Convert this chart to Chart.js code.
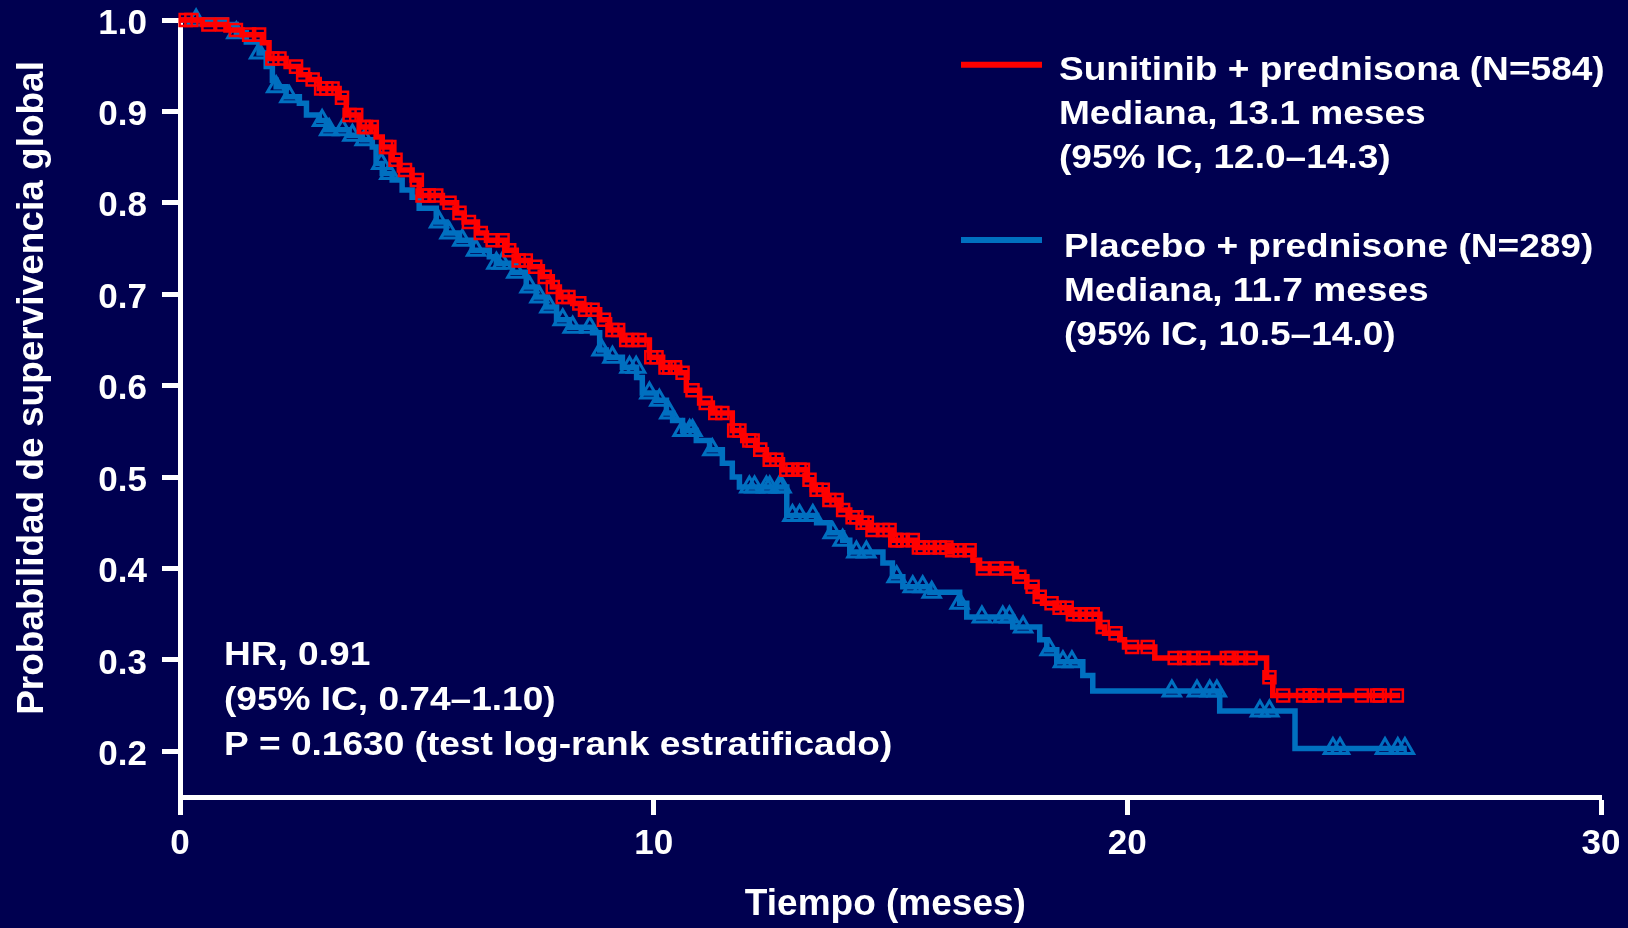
<!DOCTYPE html>
<html>
<head>
<meta charset="utf-8">
<script src="https://cdn.jsdelivr.net/npm/chart.js@4.4.1/dist/chart.umd.min.js"></script>
<style>
  html, body { margin: 0; padding: 0; background: #000050; }
  #wrap { width: 1628px; height: 928px; }
</style>
</head>
<body>
<div id="wrap"><canvas id="c" width="1628" height="928"></canvas></div>
<script>
// ---- Data ----
const xTicks = [0, 10, 20, 30];
const yTicks = [0.2, 0.3, 0.4, 0.5, 0.6, 0.7, 0.8, 0.9, 1.0];

// Sunitinib + prednisona: step times (months) and survival after each step
const sunTimes = [0, 0.47, 0.97, 1.31, 1.74, 1.88, 2.24, 2.52, 2.73, 2.94, 3.36, 3.51, 3.79, 4.14, 4.27, 4.48, 4.63, 4.90, 5.05, 5.54, 5.84, 6.00, 6.28, 6.47, 6.89, 7.10, 7.38, 7.65, 7.86, 8.01, 8.29, 8.50, 8.86, 9.07, 9.34, 9.91, 10.19, 10.55, 10.69, 10.97, 11.24, 11.66, 11.88, 12.17, 12.38, 12.72, 13.23, 13.35, 13.65, 13.92, 14.14, 14.35, 14.56, 15.04, 15.55, 16.25, 16.74, 16.88, 17.66, 17.88, 18.09, 18.21, 18.51, 18.79, 19.42, 19.52, 19.84, 19.94, 20.58, 22.94, 23.07, 25.76];
const sunSurv  = [1.0, 0.995, 0.989, 0.984, 0.975, 0.958, 0.949, 0.94, 0.935, 0.925, 0.915, 0.896, 0.883, 0.872, 0.861, 0.847, 0.836, 0.825, 0.808, 0.80, 0.789, 0.779, 0.767, 0.759, 0.748, 0.737, 0.730, 0.719, 0.708, 0.697, 0.69, 0.683, 0.672, 0.661, 0.65, 0.631, 0.62, 0.614, 0.595, 0.581, 0.57, 0.551, 0.54, 0.53, 0.519, 0.508, 0.497, 0.486, 0.475, 0.464, 0.456, 0.45, 0.442, 0.431, 0.423, 0.42, 0.409, 0.40, 0.391, 0.38, 0.369, 0.362, 0.357, 0.35, 0.336, 0.329, 0.322, 0.314, 0.302, 0.281, 0.261, 0.261];
const sunCensored = [0.12, 0.24, 0.6, 0.89, 1.18, 1.46, 1.67, 1.95, 2.1, 2.45, 2.6, 2.8, 2.98, 3.09, 3.22, 3.42, 3.58, 3.72, 3.88, 3.93, 4.05, 4.35, 4.42, 4.55, 4.75, 5.0, 5.12, 5.25, 5.41, 5.69, 5.9, 6.1, 6.35, 6.6, 6.81, 6.95, 7.15, 7.3, 7.5, 7.7, 7.87, 8.08, 8.2, 8.43, 8.55, 8.71, 8.95, 9.13, 9.25, 9.42, 9.55, 9.7, 9.95, 10.06, 10.25, 10.33, 10.45, 10.61, 10.82, 11.1, 11.3, 11.45, 11.7, 11.81, 12.02, 12.09, 12.25, 12.45, 12.59, 12.8, 12.93, 13.08, 13.15, 13.29, 13.44, 13.57, 13.71, 13.86, 14.0, 14.2, 14.28, 14.41, 14.5, 14.62, 14.84, 14.98, 15.1, 15.13, 15.26, 15.47, 15.6, 15.68, 15.83, 16.04, 16.18, 16.3, 16.46, 16.67, 16.95, 17.24, 17.45, 17.72, 18.0, 18.15, 18.4, 18.57, 18.72, 18.85, 18.99, 19.14, 19.27, 19.48, 19.75, 20.1, 20.43, 21.0, 21.2, 21.4, 21.6, 22.1, 22.2, 22.4, 22.6, 23.0, 23.29, 23.71, 23.85, 24.0, 24.38, 24.95, 25.27, 25.33, 25.69];

// Placebo + prednisone
const plaTimes = [0, 0.98, 1.19, 1.40, 1.67, 1.82, 1.95, 2.03, 2.24, 2.52, 2.67, 2.94, 3.09, 3.57, 3.85, 4.06, 4.14, 4.27, 4.48, 4.69, 4.90, 5.05, 5.41, 5.62, 5.90, 6.17, 6.53, 6.68, 7.02, 7.31, 7.52, 7.73, 7.95, 8.22, 8.71, 8.86, 9.00, 9.34, 9.64, 9.76, 10.06, 10.27, 10.40, 10.61, 10.90, 11.18, 11.45, 11.66, 11.81, 12.81, 13.44, 13.71, 13.99, 14.14, 14.84, 15.04, 15.26, 15.83, 16.46, 16.61, 17.58, 18.15, 18.30, 18.51, 19.06, 19.27, 21.95, 23.54, 25.90];
const plaSurv  = [1.0, 0.995, 0.986, 0.976, 0.964, 0.949, 0.934, 0.927, 0.916, 0.909, 0.896, 0.89, 0.88, 0.874, 0.869, 0.861, 0.843, 0.832, 0.825, 0.814, 0.806, 0.794, 0.779, 0.767, 0.759, 0.748, 0.741, 0.734, 0.724, 0.708, 0.697, 0.686, 0.672, 0.664, 0.658, 0.639, 0.631, 0.62, 0.609, 0.592, 0.584, 0.57, 0.562, 0.551, 0.54, 0.53, 0.515, 0.50, 0.489, 0.458, 0.45, 0.439, 0.431, 0.418, 0.406, 0.391, 0.38, 0.374, 0.362, 0.347, 0.336, 0.322, 0.311, 0.298, 0.283, 0.266, 0.244, 0.203, 0.203];
const plaCensored = [0.34, 1.19, 1.67, 2.03, 2.31, 3.0, 3.15, 3.43, 3.64, 3.9, 4.25, 4.42, 5.47, 5.69, 5.96, 6.25, 6.68, 6.8, 7.1, 7.38, 7.59, 7.8, 8.08, 8.29, 8.65, 8.9, 9.13, 9.49, 9.63, 9.91, 10.12, 10.33, 10.61, 10.76, 10.82, 11.24, 12.02, 12.13, 12.38, 12.45, 12.65, 12.7, 12.93, 13.08, 13.36, 13.78, 13.99, 14.28, 14.49, 15.13, 15.47, 15.68, 15.87, 16.46, 16.93, 17.37, 17.51, 17.8, 18.36, 18.64, 18.83, 20.94, 21.47, 21.74, 21.89, 22.8, 23.0, 24.34, 24.49, 25.44, 25.71, 25.86];

const legendLines = [
  ['Sunitinib + prednisona (N=584)', 'Mediana, 13.1 meses', '(95% IC, 12.0\u201314.3)'],
  ['Placebo + prednisone (N=289)', 'Mediana, 11.7 meses', '(95% IC, 10.5\u201314.0)']
];
const statLines = ['HR, 0.91', '(95% IC, 0.74\u20131.10)', 'P = 0.1630 (test log-rank estratificado)'];

// ---- helpers ----
const RED = '#ff0000', BLUE = '#0070c0', BG = '#000050';
function stepPoints(times, surv) { return times.map((t, i) => ({x: t, y: surv[i]})); }
function survAt(times, surv, t) {
  let s = surv[0];
  for (let i = 0; i < times.length; i++) { if (times[i] <= t) s = surv[i]; else break; }
  return s;
}
function censorPoints(cens, times, surv) { return cens.map(t => ({x: t, y: survAt(times, surv, t)})); }

const FONT = '"Liberation Sans", Arial, Helvetica, sans-serif';
Chart.defaults.font.family = FONT;
Chart.defaults.font.weight = 'bold';
Chart.defaults.color = '#ffffff';

const bgPlugin = {
  id: 'bg',
  beforeDraw(chart) {
    const c = chart.ctx;
    c.save(); c.fillStyle = BG; c.fillRect(0, 0, chart.width, chart.height); c.restore();
  }
};

const textPlugin = {
  id: 'texts',
  afterDraw(chart) {
    const c = chart.ctx;
    const sx = 1.09;
    function line(txt, x, y) {
      c.save(); c.translate(x, y); c.scale(sx, 1); c.fillText(txt, 0, 0); c.restore();
    }
    c.save();
    c.fillStyle = '#ffffff';
    c.font = 'bold 34px ' + FONT;
    c.textBaseline = 'alphabetic';
    c.textAlign = 'left';
    const legCfg = [
      {color: RED, lineY: 64.8, textX: 1059, base: 80},
      {color: BLUE, lineY: 240, textX: 1064, base: 257}
    ];
    legCfg.forEach((cfg, k) => {
      c.save();
      c.strokeStyle = cfg.color; c.lineWidth = 6; c.lineCap = 'butt';
      c.beginPath(); c.moveTo(961, cfg.lineY); c.lineTo(1042, cfg.lineY); c.stroke();
      c.restore();
      legendLines[k].forEach((t, j) => line(t, cfg.textX, cfg.base + j * 44));
    });
    statLines.forEach((t, j) => line(t, 224, 665 + j * 45));
    c.restore();
  }
};

new Chart(document.getElementById('c'), {
  type: 'line',
  data: {
    datasets: [
      {
        label: 'Sunitinib + prednisona (N=584) censurados',
        type: 'scatter',
        data: censorPoints(sunCensored, sunTimes, sunSurv),
        showLine: false, pointStyle: 'rect', pointRadius: 8.5,
        pointBorderColor: RED, pointBackgroundColor: 'rgba(0,0,0,0)', pointBorderWidth: 2.5,
        clip: false, order: 0
      },
      {
        label: 'Sunitinib + prednisona (N=584)',
        data: stepPoints(sunTimes, sunSurv),
        borderColor: RED, backgroundColor: RED, borderWidth: 5.5, stepped: 'before',
        pointRadius: 0, fill: false, clip: false, order: 1
      },
      {
        label: 'Placebo + prednisone (N=289) censurados',
        type: 'scatter',
        data: censorPoints(plaCensored, plaTimes, plaSurv),
        showLine: false, pointStyle: 'triangle', pointRadius: 10,
        pointBorderColor: BLUE, pointBackgroundColor: 'rgba(0,0,0,0)', pointBorderWidth: 3,
        clip: false, order: 2
      },
      {
        label: 'Placebo + prednisone (N=289)',
        data: stepPoints(plaTimes, plaSurv),
        borderColor: BLUE, backgroundColor: BLUE, borderWidth: 5.5, stepped: 'before',
        pointRadius: 0, fill: false, clip: false, order: 3
      }
    ]
  },
  options: {
    responsive: false,
    animation: false,
    events: [],
    layout: { padding: { top: 20, right: 27, left: 0, bottom: 0 } },
    plugins: { legend: { display: false }, tooltip: { enabled: false } },
    scales: {
      x: {
        type: 'linear', min: 0, max: 30,
        afterBuildTicks: s => { s.ticks = xTicks.map(v => ({value: v})); },
        afterFit: s => { s.height = 131; s.paddingLeft = 0; s.paddingRight = 0; },
        ticks: { color: '#ffffff', font: { size: 35, weight: 'bold' }, padding: 8, maxRotation: 0,
                 callback: v => String(v) },
        grid: { display: true, drawOnChartArea: false, drawTicks: true, tickLength: 18, tickWidth: 5, tickColor: '#ffffff', color: '#ffffff' },
        border: { display: true, color: '#ffffff', width: 5 },
        title: { display: true, text: 'Tiempo (meses)\u00a0', color: '#ffffff', font: { size: 37, weight: 'bold' }, padding: { top: 0, bottom: 1 } }
      },
      y: {
        type: 'linear', min: 0.15, max: 1.0,
        afterBuildTicks: s => { s.ticks = yTicks.map(v => ({value: v})); },
        afterFit: s => { s.width = 180; s.paddingTop = 0; s.paddingBottom = 0; },
        ticks: { color: '#ffffff', font: { size: 35, weight: 'bold' }, padding: 15, labelOffset: 4,
                 callback: v => Number(v).toFixed(1) },
        grid: { display: true, drawOnChartArea: false, drawTicks: true, tickLength: 18, tickWidth: 5, tickColor: '#ffffff', color: '#ffffff' },
        border: { display: true, color: '#ffffff', width: 5 },
        title: { display: true, text: '\u00a0\u00a0\u00a0\u00a0Probabilidad de supervivencia global', color: '#ffffff', font: { size: 37, weight: 'bold' }, padding: { top: 11, bottom: 0 } }
      }
    }
  },
  plugins: [bgPlugin, textPlugin]
});
</script>
</body>
</html>
